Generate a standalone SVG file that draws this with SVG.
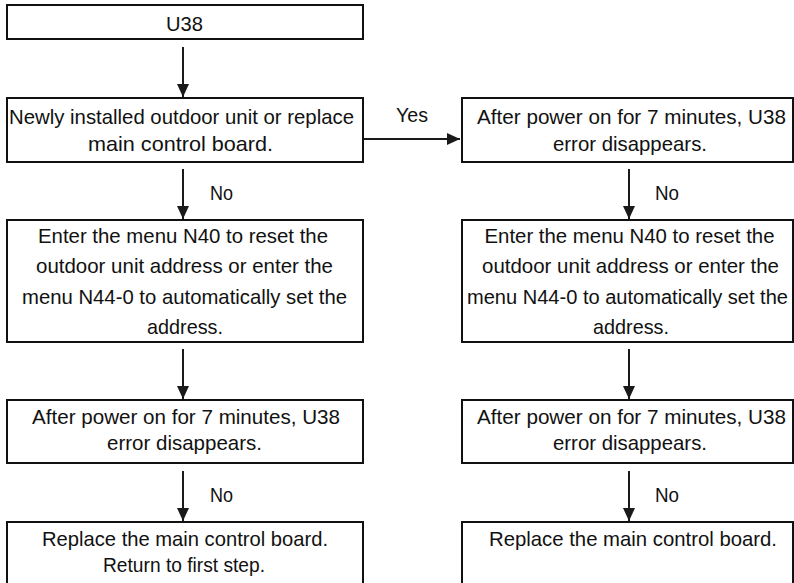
<svg xmlns="http://www.w3.org/2000/svg" width="794" height="583" viewBox="0 0 794 583">
<defs>
<marker id="ah" markerUnits="userSpaceOnUse" markerWidth="13" markerHeight="12" refX="13" refY="6" orient="auto">
<path d="M0,0 L13,6 L0,12 z" fill="#1a1a1a"/>
</marker>
<style>
.box{fill:#fff;stroke:#111;stroke-width:2}
.t{font-family:"Liberation Sans Narrow","Liberation Sans","DejaVu Sans Condensed",sans-serif;font-size:21px;fill:#111;text-anchor:middle}
.c{stroke:#1a1a1a;stroke-width:2;fill:none;marker-end:url(#ah)}
.l{font-family:"Liberation Sans Narrow","Liberation Sans","DejaVu Sans Condensed",sans-serif;font-size:21px;fill:#111}
.s{font-size:20px}
</style>
</defs>
<rect width="794" height="583" fill="#fff"/>
<g id="connectors">
<line class="c" x1="183" y1="47" x2="183" y2="97"/>
<line class="c" x1="364" y1="139" x2="460" y2="139"/>
<line class="c" x1="183" y1="169" x2="183" y2="219"/>
<line class="c" x1="183" y1="349" x2="183" y2="399"/>
<line class="c" x1="183" y1="471" x2="183" y2="521"/>
<line class="c" x1="629" y1="169" x2="629" y2="219"/>
<line class="c" x1="629" y1="349" x2="629" y2="399"/>
<line class="c" x1="629" y1="471" x2="629" y2="521"/>
<text class="l" x="396" y="122" textLength="32" lengthAdjust="spacingAndGlyphs">Yes</text>
<text class="l" x="210" y="200" textLength="23" lengthAdjust="spacingAndGlyphs">No</text>
<text class="l" x="655" y="200" textLength="24" lengthAdjust="spacingAndGlyphs">No</text>
<text class="l" x="210" y="502" textLength="23" lengthAdjust="spacingAndGlyphs">No</text>
<text class="l" x="655" y="502" textLength="24" lengthAdjust="spacingAndGlyphs">No</text>
</g>
<g id="n1">
<rect class="box" x="7" y="5" width="356" height="34"/>
<text class="t" x="184.5" y="31" textLength="37" lengthAdjust="spacingAndGlyphs">U38</text>
</g>
<g id="n2">
<rect class="box" x="7" y="98" width="356" height="64"/>
<text class="t" x="181.5" y="124" textLength="345" lengthAdjust="spacingAndGlyphs">Newly installed outdoor unit or replace</text>
<text class="t" x="180.5" y="151" textLength="185" lengthAdjust="spacingAndGlyphs">main control board.</text>
</g>
<g id="n3">
<rect class="box" x="7" y="220" width="356" height="122"/>
<text class="t" x="183" y="243" textLength="290" lengthAdjust="spacingAndGlyphs">Enter the menu N40 to reset the</text>
<text class="t" x="184.5" y="273" textLength="297" lengthAdjust="spacingAndGlyphs">outdoor unit address or enter the</text>
<text class="t" x="184.5" y="304" textLength="325" lengthAdjust="spacingAndGlyphs">menu N44-0 to automatically set the</text>
<text class="t" x="185" y="334" textLength="76" lengthAdjust="spacingAndGlyphs">address.</text>
</g>
<g id="n4">
<rect class="box" x="7" y="400" width="356" height="63"/>
<text class="t" x="186" y="424" textLength="308" lengthAdjust="spacingAndGlyphs">After power on for 7 minutes, U38</text>
<text class="t" x="184.5" y="450" textLength="155" lengthAdjust="spacingAndGlyphs">error disappears.</text>
</g>
<g id="n5">
<rect class="box" x="7" y="522" width="356" height="70"/>
<text class="t" x="185" y="546" textLength="286" lengthAdjust="spacingAndGlyphs">Replace the main control board.</text>
<text class="t" x="184" y="572" textLength="162" lengthAdjust="spacingAndGlyphs">Return to first step.</text>
</g>
<g id="n6">
<rect class="box" x="462" y="98" width="331" height="64"/>
<text class="t" x="631.5" y="124" textLength="309" lengthAdjust="spacingAndGlyphs">After power on for 7 minutes, U38</text>
<text class="t" x="630" y="151" textLength="154" lengthAdjust="spacingAndGlyphs">error disappears.</text>
</g>
<g id="n7">
<rect class="box" x="462" y="220" width="331" height="122"/>
<text class="t" x="629.5" y="243" textLength="290" lengthAdjust="spacingAndGlyphs">Enter the menu N40 to reset the</text>
<text class="t" x="630.5" y="273" textLength="297" lengthAdjust="spacingAndGlyphs">outdoor unit address or enter the</text>
<text class="t s" x="627.5" y="304" textLength="321" lengthAdjust="spacingAndGlyphs">menu N44-0 to automatically set the</text>
<text class="t" x="631" y="334" textLength="76" lengthAdjust="spacingAndGlyphs">address.</text>
</g>
<g id="n8">
<rect class="box" x="462" y="400" width="331" height="63"/>
<text class="t" x="631.5" y="424" textLength="309" lengthAdjust="spacingAndGlyphs">After power on for 7 minutes, U38</text>
<text class="t" x="630" y="450" textLength="154" lengthAdjust="spacingAndGlyphs">error disappears.</text>
</g>
<g id="n9">
<rect class="box" x="462" y="522" width="331" height="70"/>
<text class="t" x="633" y="546" textLength="288" lengthAdjust="spacingAndGlyphs">Replace the main control board.</text>
</g>
</svg>
